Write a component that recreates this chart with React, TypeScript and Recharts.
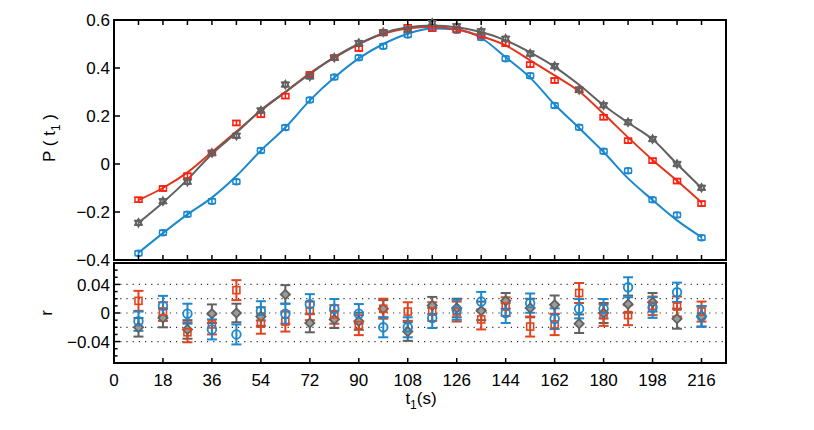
import React from 'react';
import { ComposedChart, Line, Scatter, XAxis, YAxis, ErrorBar, ReferenceLine } from 'recharts';

const FONT = '"Liberation Sans", Arial, Helvetica, sans-serif';

// time points (s)
const times = [9, 18, 27, 36, 45, 54, 63, 72, 81, 90, 99, 108, 117, 126, 135, 144, 153, 162, 171, 180, 189, 198, 207, 216];

// top panel: measured P(t1)
const pRed = [-0.149, -0.102, -0.049, 0.046, 0.171, 0.205, 0.283, 0.373, 0.443, 0.481, 0.546, 0.57, 0.564, 0.56, 0.536, 0.501, 0.414, 0.348, 0.309, 0.195, 0.097, 0.014, -0.071, -0.165];
const pGray = [-0.245, -0.155, -0.074, 0.046, 0.118, 0.223, 0.331, 0.365, 0.443, 0.504, 0.549, 0.56, 0.588, 0.574, 0.553, 0.522, 0.46, 0.408, 0.309, 0.245, 0.174, 0.104, 0.0, -0.099];
const pBlue = [-0.372, -0.286, -0.209, -0.155, -0.074, 0.056, 0.152, 0.267, 0.362, 0.443, 0.491, 0.538, 0.568, 0.557, 0.527, 0.439, 0.368, 0.244, 0.153, 0.053, -0.028, -0.149, -0.212, -0.307];
const pRedErr = [0.01, 0.01, 0.01, 0.01, 0.01, 0.01, 0.01, 0.01, 0.01, 0.01, 0.01, 0.01, 0.01, 0.01, 0.01, 0.01, 0.01, 0.01, 0.01, 0.01, 0.01, 0.01, 0.01, 0.01];
const pGrayErr = [0.01, 0.01, 0.01, 0.01, 0.01, 0.01, 0.01, 0.01, 0.01, 0.01, 0.01, 0.01, 0.01, 0.01, 0.01, 0.01, 0.01, 0.01, 0.01, 0.01, 0.01, 0.01, 0.01, 0.01];
const pBlueErr = [0.01, 0.01, 0.01, 0.01, 0.01, 0.01, 0.01, 0.01, 0.01, 0.01, 0.01, 0.01, 0.01, 0.01, 0.01, 0.01, 0.01, 0.01, 0.01, 0.01, 0.01, 0.01, 0.01, 0.01];

// top panel: fitted curves
const fitRed = [-0.15, -0.1, -0.035, 0.05, 0.135, 0.222, 0.3, 0.378, 0.443, 0.5, 0.543, 0.565, 0.572, 0.56, 0.532, 0.494, 0.432, 0.369, 0.303, 0.209, 0.111, 0.017, -0.07, -0.16];
const fitGray = [-0.245, -0.16, -0.065, 0.042, 0.13, 0.225, 0.3, 0.375, 0.445, 0.5, 0.545, 0.57, 0.577, 0.57, 0.55, 0.515, 0.465, 0.405, 0.33, 0.245, 0.172, 0.103, 0.0, -0.1];
const fitBlue = [-0.37, -0.288, -0.21, -0.14, -0.05, 0.056, 0.152, 0.265, 0.36, 0.44, 0.5, 0.543, 0.565, 0.56, 0.525, 0.445, 0.36, 0.248, 0.15, 0.05, -0.06, -0.15, -0.235, -0.305];

// bottom panel: residuals r
const rRed = [0.017, 0.002, -0.027, -0.016, 0.032, -0.015, -0.012, 0.003, -0.002, -0.017, 0.006, 0.002, 0.002, 0.002, -0.009, 0.009, -0.019, -0.016, 0.028, -0.003, -0.003, 0.01, 0.009, 0.002];
const rRedErr = [0.014, 0.013, 0.014, 0.014, 0.014, 0.014, 0.014, 0.013, 0.013, 0.014, 0.014, 0.013, 0.013, 0.014, 0.014, 0.013, 0.014, 0.015, 0.014, 0.015, 0.014, 0.013, 0.014, 0.014];
const rGray = [-0.02, -0.007, -0.023, -0.001, 0.0, -0.005, 0.026, -0.014, -0.009, -0.0115, 0.006, -0.026, 0.0105, 0.007, 0.003, 0.017, 0.007, 0.0115, -0.015, 0.0, 0.0124, 0.015, -0.008, -0.005];
const rGrayErr = [0.013, 0.013, 0.013, 0.013, 0.013, 0.013, 0.013, 0.013, 0.012, 0.012, 0.012, 0.013, 0.012, 0.013, 0.013, 0.011, 0.013, 0.013, 0.013, 0.014, 0.012, 0.013, 0.014, 0.014];
const rBlue = [-0.0115, 0.01, -0.001, -0.023, -0.03, 0.003, -0.001, 0.0124, 0.006, -0.001, -0.02, -0.02, -0.007, 0.0045, 0.016, 0.0, 0.0138, -0.008, 0.006, 0.006, 0.036, 0.0077, 0.029, -0.0047];
const rBlueErr = [0.0135, 0.014, 0.014, 0.014, 0.014, 0.0135, 0.014, 0.014, 0.0135, 0.0135, 0.014, 0.014, 0.014, 0.014, 0.0135, 0.014, 0.0135, 0.0145, 0.0135, 0.0135, 0.014, 0.0145, 0.0135, 0.0145];

// ticks
const topXTicks = [0, 9, 18, 27, 36, 45, 54, 63, 72, 81, 90, 99, 108, 117, 126, 135, 144, 153, 162, 171, 180, 189, 198, 207, 216];
const bottomXTicks = [0, 18, 36, 54, 72, 90, 108, 126, 144, 162, 180, 198, 216];
const topYTicks = [-0.4, -0.2, 0, 0.2, 0.4, 0.6];
const topYRightTicks = [-0.2, 0, 0.2, 0.4];
const resLeftTicks = [-0.06, -0.05, -0.04, -0.03, -0.02, -0.01, 0, 0.01, 0.02, 0.03, 0.04, 0.05, 0.06];
const resLabelTicks = [-0.04, 0, 0.04];
const resRightTicks = [-0.06, -0.04, -0.02, 0, 0.02, 0.04, 0.06];
const resGrid = [0.04, 0.02, 0, -0.02, -0.04];

const C_RED_PT = '#ff1f10';
const C_RED_LN = '#e2361c';
const C_GRAY = '#616161';
const C_BLUE = '#1b88cf';
const C_RED_RES = '#e5431d';

const AXIS_LEFT = 114;
const AXIS_RIGHT = 726;

const topData = times.map((t, i) => ({
  t,
  red: pRed[i], redErr: pRedErr[i],
  gray: pGray[i], grayErr: pGrayErr[i],
  blue: pBlue[i], blueErr: pBlueErr[i],
  redFit: fitRed[i], grayFit: fitGray[i], blueFit: fitBlue[i],
}));

const resData = times.map((t, i) => ({
  t,
  red: rRed[i], redErr: rRedErr[i],
  gray: rGray[i], grayErr: rGrayErr[i],
  blue: rBlue[i], blueErr: rBlueErr[i],
}));

const fmt = (v: number) => {
  const r = Math.round(v * 1000) / 1000;
  if (r === 0) return '0';
  return (r < 0 ? '\u2212' : '') + String(Math.abs(r));
};

const near = (a: number, list: number[]) => list.some((b) => Math.abs(a - b) < 1e-9);

const LeftTick = (props: any) => {
  const { y, payload, labels, len } = props;
  const x = AXIS_LEFT;
  const v = payload.value;
  const show = labels ? near(v, labels) : false;
  const l = show ? len : len * 0.6;
  return (
    <g>
      <line x1={x} y1={y} x2={x + l} y2={y} stroke="#000" strokeWidth={1.5} />
      {show && (
        <text x={x - 4} y={y} dy="0.36em" textAnchor="end" fontSize={17} fontFamily={FONT} fill="#000">
          {fmt(v)}
        </text>
      )}
    </g>
  );
};

const RightTick = (props: any) => {
  const { y, len } = props;
  const x = AXIS_RIGHT;
  return <line x1={x} y1={y} x2={x - len} y2={y} stroke="#000" strokeWidth={1.5} />;
};

const BottomTick = (props: any) => {
  const { x, y, payload, showLabels, len } = props;
  return (
    <g>
      <line x1={x} y1={y} x2={x} y2={y - len} stroke="#000" strokeWidth={1.5} />
      {showLabels && (
        <text x={x} y={y + 23} textAnchor="middle" fontSize={17} fontFamily={FONT} fill="#000">
          {fmt(payload.value)}
        </text>
      )}
    </g>
  );
};

const TopTick = (props: any) => {
  const { x, y, len } = props;
  return <line x1={x} y1={y} x2={x} y2={y + len} stroke="#000" strokeWidth={1.5} />;
};

const axisLineStyle = { stroke: '#000', strokeWidth: 2, strokeLinecap: 'square' as const };

// markers
const TopSquare = (p: any) => (
  <rect x={p.cx - 3.5} y={p.cy - 2.5} width={7} height={5} fill="none" stroke={C_RED_PT} strokeWidth={1.5} />
);
const TopCircle = (p: any) => (
  <ellipse cx={p.cx} cy={p.cy} rx={3.6} ry={3} fill="none" stroke={C_BLUE} strokeWidth={1.5} />
);
const TopStar = (p: any) => {
  const r = 4.2;
  const cx = p.cx;
  const cy = p.cy;
  const tri1 = `${cx},${cy - r} ${cx + r * 0.866},${cy + r * 0.5} ${cx - r * 0.866},${cy + r * 0.5}`;
  const tri2 = `${cx},${cy + r} ${cx + r * 0.866},${cy - r * 0.5} ${cx - r * 0.866},${cy - r * 0.5}`;
  return (
    <g>
      <polygon points={tri1} fill="none" stroke={C_GRAY} strokeWidth={1.4} />
      <polygon points={tri2} fill="none" stroke={C_GRAY} strokeWidth={1.4} />
    </g>
  );
};

const ResSquare = (p: any) => (
  <rect x={p.cx - 3.5} y={p.cy - 3.5} width={7} height={7} fill="none" stroke={C_RED_RES} strokeWidth={1.6} />
);
const ResCircle = (p: any) => (
  <circle cx={p.cx} cy={p.cy} r={4.3} fill="none" stroke={C_BLUE} strokeWidth={1.8} />
);
const ResDiamond = (p: any) => {
  const r = 4.6;
  return (
    <polygon
      points={`${p.cx},${p.cy - r} ${p.cx + r},${p.cy} ${p.cx},${p.cy + r} ${p.cx - r},${p.cy}`}
      fill="#9a9a9a"
      stroke={C_GRAY}
      strokeWidth={1.8}
    />
  );
};

const PLabel = () => (
  <text x={55} y={138} transform="rotate(-90 55 138)" textAnchor="middle" fontSize={17} fontFamily={FONT} fill="#000">
    P ( t
    <tspan fontSize={12} dy={5}>1</tspan>
    <tspan dy={-5}> )</tspan>
  </text>
);

const RLabel = () => (
  <text x={52} y={63} transform="rotate(-90 52 63)" textAnchor="middle" fontSize={17} fontFamily={FONT} fill="#000">
    r
  </text>
);

const TLabel = () => (
  <text x={421} y={154} textAnchor="middle" fontSize={17} fontFamily={FONT} fill="#000">
    t
    <tspan fontSize={12} dy={5}>1</tspan>
    <tspan dy={-5}>(s)</tspan>
  </text>
);

export default function App() {
  return (
    <div style={{ position: 'absolute', left: 0, top: 0, width: 814, height: 430, background: '#fff' }}>
      <div style={{ position: 'absolute', left: 0, top: 0 }}>
        <ComposedChart width={814} height={272} data={topData} margin={{ top: 19, right: 87, bottom: 11, left: 0 }}>
          <XAxis
            dataKey="t"
            type="number"
            domain={[0, 225]}
            ticks={topXTicks}
            interval={0}
            height={1}
            tickSize={0}
            tickMargin={0}
            axisLine={axisLineStyle}
            tickLine={false}
            tick={(p: any) => <BottomTick {...p} showLabels={false} len={5} />}
          />
          <XAxis
            xAxisId="top"
            orientation="top"
            dataKey="t"
            type="number"
            domain={[0, 225]}
            ticks={topXTicks}
            interval={0}
            height={1}
            tickSize={0}
            tickMargin={0}
            axisLine={axisLineStyle}
            tickLine={false}
            tick={(p: any) => <TopTick {...p} len={5} />}
          />
          <YAxis
            type="number"
            domain={[-0.4, 0.6]}
            ticks={topYTicks}
            interval={0}
            width={AXIS_LEFT}
            tickSize={0}
            tickMargin={0}
            axisLine={axisLineStyle}
            tickLine={false}
            tick={(p: any) => <LeftTick {...p} labels={topYTicks} len={6} />}
            label={{ content: () => <PLabel /> }}
          />
          <YAxis
            yAxisId="right"
            orientation="right"
            type="number"
            domain={[-0.4, 0.6]}
            ticks={topYRightTicks}
            interval={0}
            width={1}
            tickSize={0}
            tickMargin={0}
            axisLine={axisLineStyle}
            tickLine={false}
            tick={(p: any) => <RightTick {...p} len={6} />}
          />
          <Line dataKey="blueFit" type="monotone" stroke={C_BLUE} strokeWidth={2} dot={false} isAnimationActive={false} />
          <Line dataKey="redFit" type="monotone" stroke={C_RED_LN} strokeWidth={2} dot={false} isAnimationActive={false} />
          <Line dataKey="grayFit" type="monotone" stroke={C_GRAY} strokeWidth={2} dot={false} isAnimationActive={false} />
          <Scatter dataKey="blue" shape={TopCircle} isAnimationActive={false}>
            <ErrorBar dataKey="blueErr" direction="y" width={4} stroke={C_BLUE} strokeWidth={1.5} />
          </Scatter>
          <Scatter dataKey="red" shape={TopSquare} isAnimationActive={false}>
            <ErrorBar dataKey="redErr" direction="y" width={4} stroke={C_RED_PT} strokeWidth={1.5} />
          </Scatter>
          <Scatter dataKey="gray" shape={TopStar} isAnimationActive={false}>
            <ErrorBar dataKey="grayErr" direction="y" width={4} stroke={C_GRAY} strokeWidth={1.5} />
          </Scatter>
        </ComposedChart>
      </div>
      <div style={{ position: 'absolute', left: 0, top: 250 }}>
        <ComposedChart width={814} height={180} data={resData} margin={{ top: 12, right: 87, bottom: 0, left: 0 }}>
          <XAxis
            dataKey="t"
            type="number"
            domain={[0, 225]}
            ticks={bottomXTicks}
            interval={0}
            height={67}
            tickSize={0}
            tickMargin={0}
            axisLine={axisLineStyle}
            tickLine={false}
            tick={(p: any) => <BottomTick {...p} showLabels={true} len={5} />}
            label={{ content: () => <TLabel /> }}
          />
          <XAxis
            xAxisId="top"
            orientation="top"
            dataKey="t"
            type="number"
            domain={[0, 225]}
            ticks={bottomXTicks}
            interval={0}
            height={1}
            tickSize={0}
            tickMargin={0}
            axisLine={axisLineStyle}
            tickLine={false}
            tick={(p: any) => <TopTick {...p} len={0} />}
          />
          <YAxis
            type="number"
            domain={[-0.07, 0.07]}
            ticks={resLeftTicks}
            interval={0}
            width={AXIS_LEFT}
            tickSize={0}
            tickMargin={0}
            axisLine={axisLineStyle}
            tickLine={false}
            tick={(p: any) => <LeftTick {...p} labels={resLabelTicks} len={6} />}
            label={{ content: () => <RLabel /> }}
          />
          <YAxis
            yAxisId="right"
            orientation="right"
            type="number"
            domain={[-0.07, 0.07]}
            ticks={resRightTicks}
            interval={0}
            width={1}
            tickSize={0}
            tickMargin={0}
            axisLine={axisLineStyle}
            tickLine={false}
            tick={(p: any) => <RightTick {...p} len={5} />}
          />
          {resGrid.map((g) => (
            <ReferenceLine key={g} y={g} stroke="#333" strokeWidth={1.2} strokeDasharray="1.2 5" />
          ))}
          <Scatter dataKey="gray" shape={ResDiamond} isAnimationActive={false}>
            <ErrorBar dataKey="grayErr" direction="y" width={5} stroke={C_GRAY} strokeWidth={2} />
          </Scatter>
          <Scatter dataKey="red" shape={ResSquare} isAnimationActive={false}>
            <ErrorBar dataKey="redErr" direction="y" width={5} stroke={C_RED_RES} strokeWidth={2} />
          </Scatter>
          <Scatter dataKey="blue" shape={ResCircle} isAnimationActive={false}>
            <ErrorBar dataKey="blueErr" direction="y" width={5} stroke={C_BLUE} strokeWidth={2} />
          </Scatter>
        </ComposedChart>
      </div>
    </div>
  );
}
